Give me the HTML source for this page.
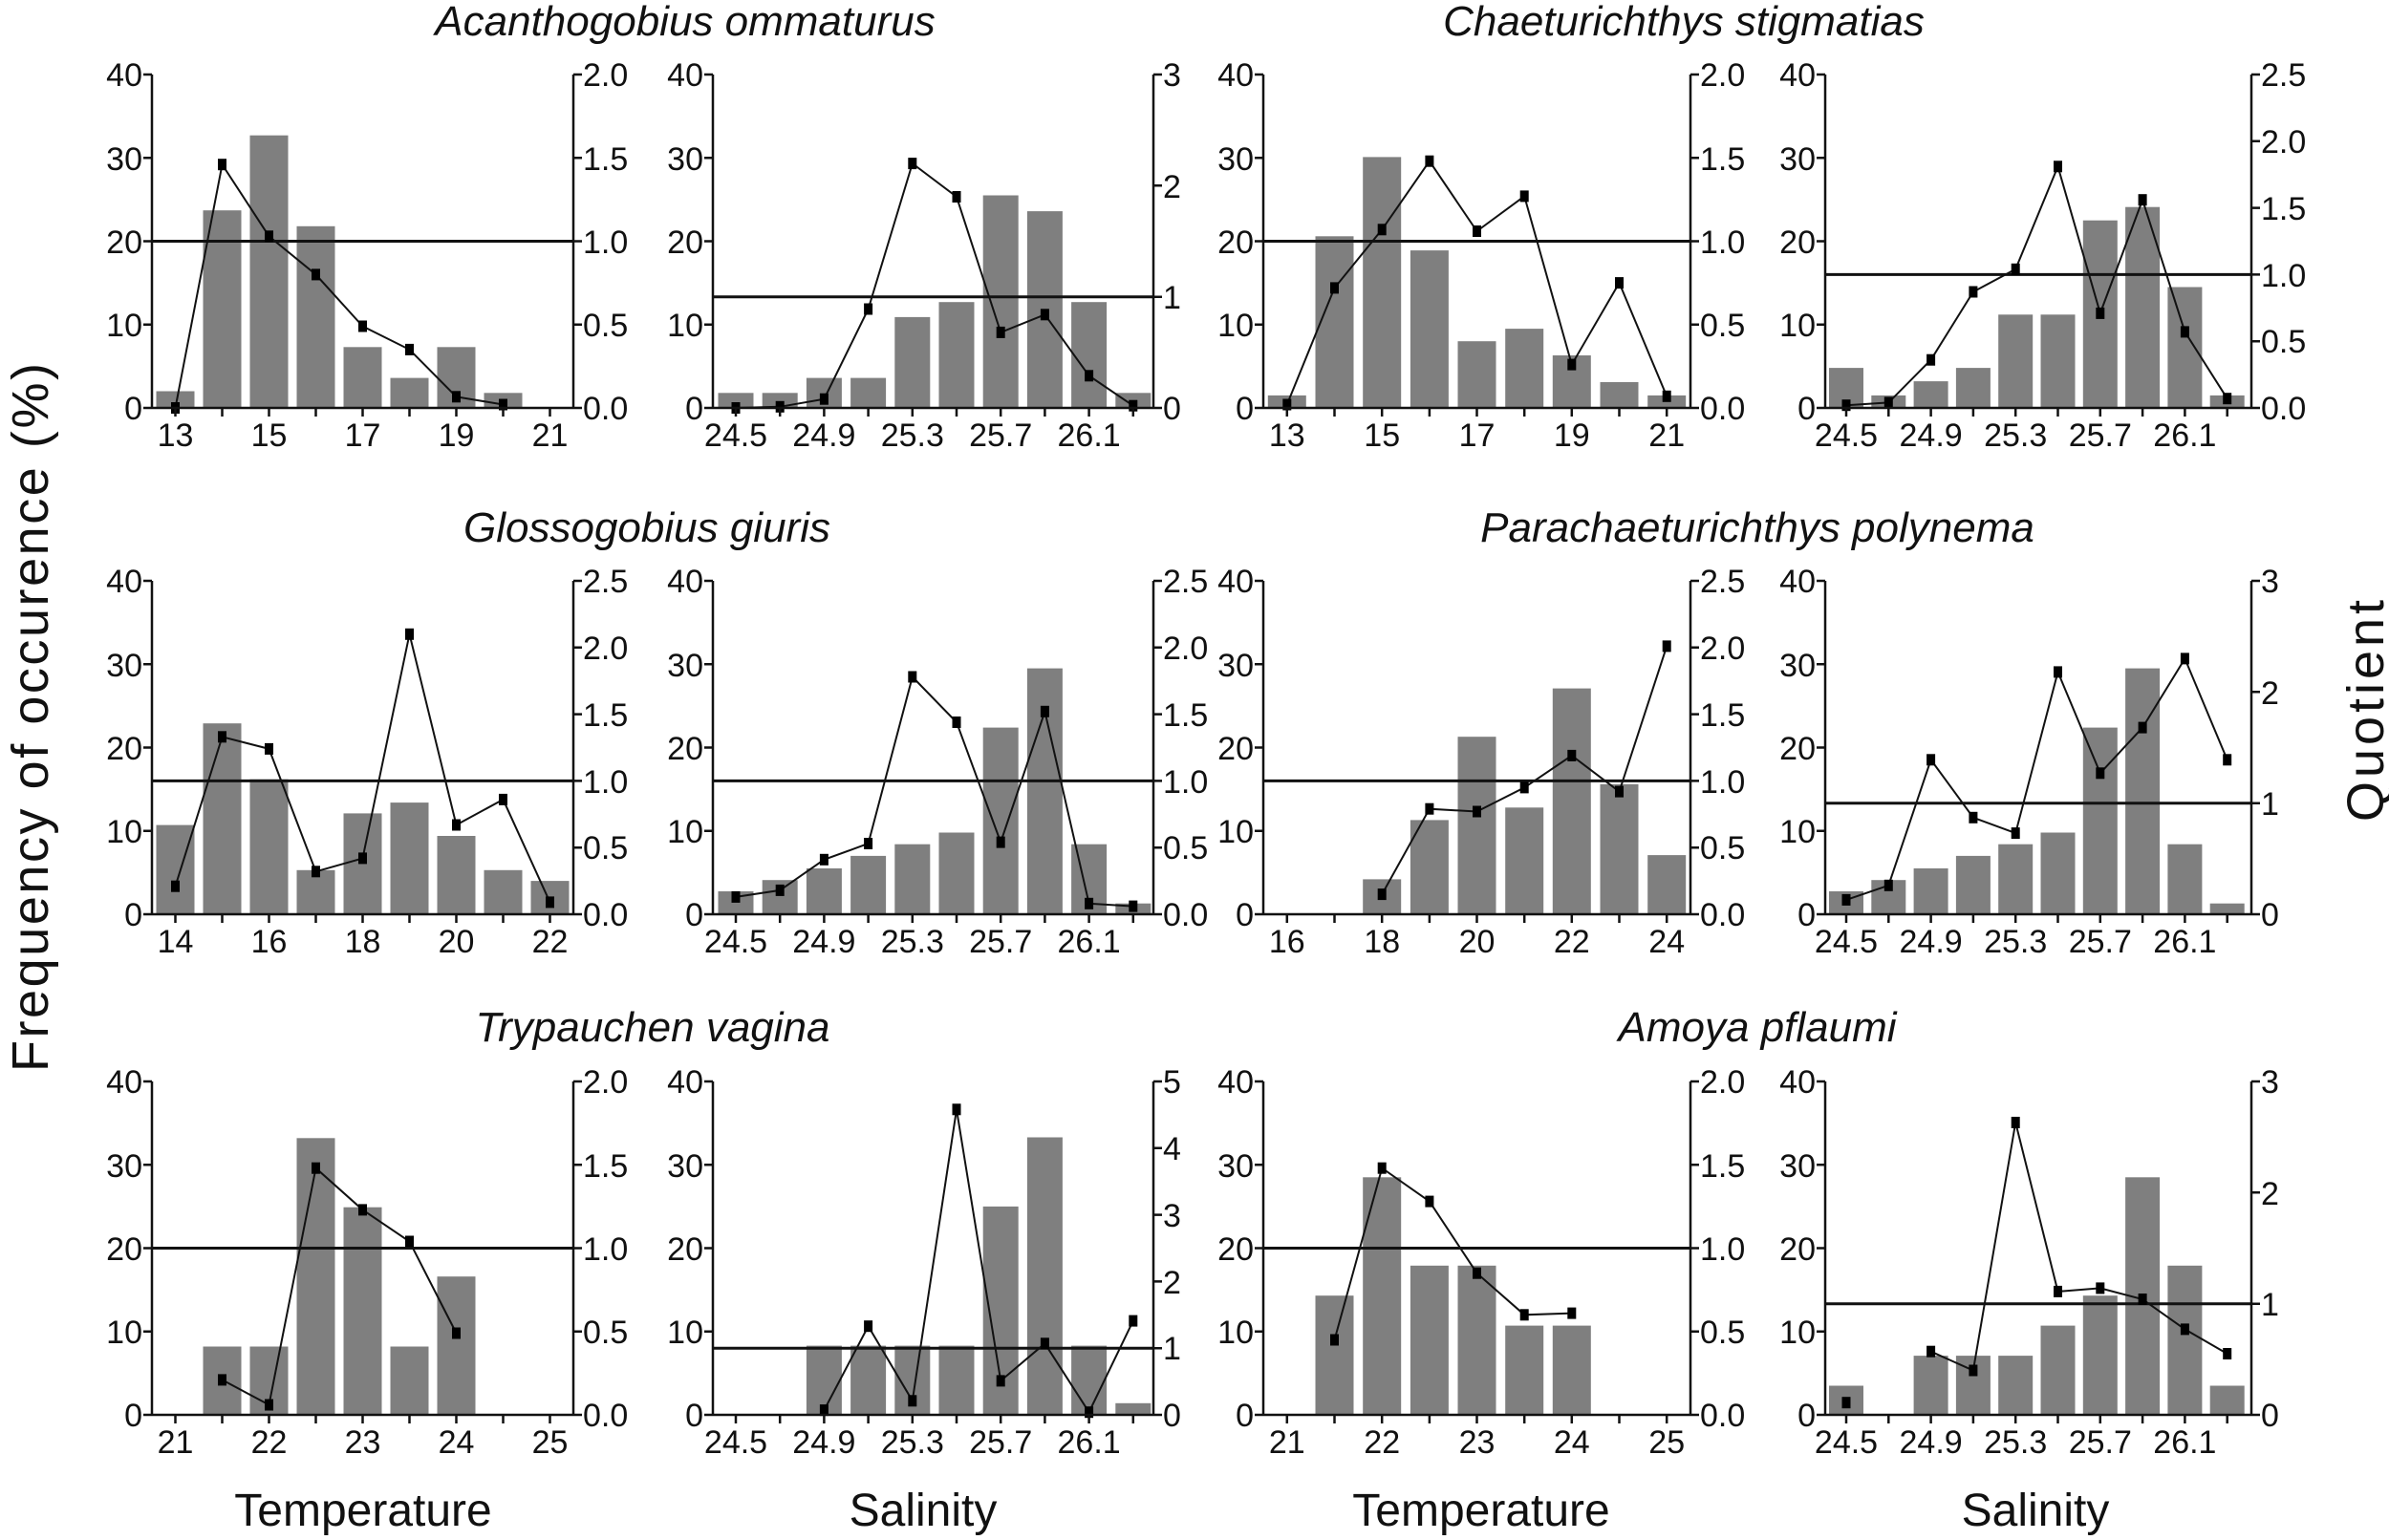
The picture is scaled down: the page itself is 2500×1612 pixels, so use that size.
<!DOCTYPE html>
<html><head><meta charset="utf-8"><style>
html,body{margin:0;padding:0;background:#fff;}
svg{display:block;}
text{font-family:"Liberation Sans",Arial,sans-serif;fill:#111;}
.t{font-size:34px;}
.ti{font-size:44px;font-style:italic;text-anchor:middle;}
.ax{font-size:48px;text-anchor:middle;}
.l{text-anchor:end;}
.m{text-anchor:middle;}
.b{fill:#7f7f7f;}
.a{stroke:#111;stroke-width:2.5;fill:none;}
.r{stroke:#111;stroke-width:3;}
.d{stroke:#111;stroke-width:2;fill:none;}
</style></head><body>
<svg width="2500" height="1612" viewBox="0 0 2500 1612" xmlns="http://www.w3.org/2000/svg">
<defs><rect id="m" x="-4.5" y="-6" width="9" height="12" fill="#000"/></defs>

<text class="ti" x="717" y="37">Acanthogobius ommaturus</text>
<text class="ti" x="1762" y="37">Chaeturichthys stigmatias</text>
<text class="ti" x="677" y="567">Glossogobius giuris</text>
<text class="ti" x="1839" y="567">Parachaeturichthys polynema</text>
<text class="ti" x="683" y="1090">Trypauchen vagina</text>
<text class="ti" x="1839" y="1090">Amoya pflaumi</text>

<text class="ax" x="380" y="1597">Temperature</text>
<text class="ax" x="966" y="1597">Salinity</text>
<text class="ax" x="1550" y="1597">Temperature</text>
<text class="ax" x="2130" y="1597">Salinity</text>

<text transform="translate(50,751) rotate(-90)" font-size="54" text-anchor="middle" textLength="742" lengthAdjust="spacing">Frequency of occurence (%)</text>
<text transform="translate(2494,744) rotate(-90)" font-size="54" text-anchor="middle" textLength="232" lengthAdjust="spacing">Quotient</text>

<!-- P1 -->
<g transform="translate(159,427)">
<rect class="b" x="4.5" y="-17.5" width="40" height="17.5"/><rect class="b" x="53.5" y="-206.8" width="40" height="206.8"/><rect class="b" x="102.5" y="-285.3" width="40" height="285.3"/><rect class="b" x="151.5" y="-190.2" width="40" height="190.2"/><rect class="b" x="200.5" y="-63.7" width="40" height="63.7"/><rect class="b" x="249.5" y="-31.4" width="40" height="31.4"/><rect class="b" x="298.5" y="-63.7" width="40" height="63.7"/><rect class="b" x="347.5" y="-15.7" width="40" height="15.7"/>
<line class="r" x1="0" y1="-174.5" x2="441" y2="-174.5"/>
<polyline class="d" points="24.5,0 73.5,-254.8 122.5,-179.7 171.5,-139.6 220.5,-85.5 269.5,-61.1 318.5,-11.7 367.5,-3.5"/>
<use href="#m" x="24.5" y="0"/><use href="#m" x="73.5" y="-254.8"/><use href="#m" x="122.5" y="-179.7"/><use href="#m" x="171.5" y="-139.6"/><use href="#m" x="220.5" y="-85.5"/><use href="#m" x="269.5" y="-61.1"/><use href="#m" x="318.5" y="-11.7"/><use href="#m" x="367.5" y="-3.5"/>
<path class="a" d="M0,-349V0H441V-349M0,0h-9M0,-87.25h-9M0,-174.5h-9M0,-261.75h-9M0,-349h-9M441,0h9M441,-87.25h9M441,-174.5h9M441,-261.75h9M441,-349h9M24.5,0v9M73.5,0v9M122.5,0v9M171.5,0v9M220.5,0v9M269.5,0v9M318.5,0v9M367.5,0v9M416.5,0v9"/>
<text class="t l" x="-10" y="12">0</text><text class="t l" x="-10" y="-75">10</text><text class="t l" x="-10" y="-162">20</text><text class="t l" x="-10" y="-249">30</text><text class="t l" x="-10" y="-337">40</text>
<text class="t" x="451" y="12">0.0</text><text class="t" x="451" y="-75">0.5</text><text class="t" x="451" y="-162">1.0</text><text class="t" x="451" y="-249">1.5</text><text class="t" x="451" y="-337">2.0</text>
<text class="t m" x="24.5" y="40">13</text><text class="t m" x="122.5" y="40">15</text><text class="t m" x="220.5" y="40">17</text><text class="t m" x="318.5" y="40">19</text><text class="t m" x="416.5" y="40">21</text>
</g>

<!-- P2 -->
<g transform="translate(746,427)">
<rect class="b" x="5.5" y="-15.7" width="37" height="15.7"/><rect class="b" x="51.7" y="-15.7" width="37" height="15.7"/><rect class="b" x="97.9" y="-31.4" width="37" height="31.4"/><rect class="b" x="144.1" y="-31.4" width="37" height="31.4"/><rect class="b" x="190.3" y="-95.1" width="37" height="95.1"/><rect class="b" x="236.5" y="-110.8" width="37" height="110.8"/><rect class="b" x="282.7" y="-222.5" width="37" height="222.5"/><rect class="b" x="328.9" y="-205.9" width="37" height="205.9"/><rect class="b" x="375.1" y="-110.8" width="37" height="110.8"/><rect class="b" x="421.3" y="-15.7" width="37" height="15.7"/>
<line class="r" x1="0" y1="-116.3" x2="461" y2="-116.3"/>
<polyline class="d" points="24,0 70.2,-1.2 116.4,-9.3 162.6,-103.5 208.8,-255.9 255,-221 301.2,-79.1 347.4,-97.7 393.6,-33.7 439.8,-2.3"/>
<use href="#m" x="24" y="0"/><use href="#m" x="70.2" y="-1.2"/><use href="#m" x="116.4" y="-9.3"/><use href="#m" x="162.6" y="-103.5"/><use href="#m" x="208.8" y="-255.9"/><use href="#m" x="255" y="-221"/><use href="#m" x="301.2" y="-79.1"/><use href="#m" x="347.4" y="-97.7"/><use href="#m" x="393.6" y="-33.7"/><use href="#m" x="439.8" y="-2.3"/>
<path class="a" d="M0,-349V0H461V-349M0,0h-9M0,-87.25h-9M0,-174.5h-9M0,-261.75h-9M0,-349h-9M461,0h9M461,-116.3h9M461,-232.7h9M461,-349h9M24,0v9M70.2,0v9M116.4,0v9M162.6,0v9M208.8,0v9M255,0v9M301.2,0v9M347.4,0v9M393.6,0v9M439.8,0v9"/>
<text class="t l" x="-10" y="12">0</text><text class="t l" x="-10" y="-75">10</text><text class="t l" x="-10" y="-162">20</text><text class="t l" x="-10" y="-249">30</text><text class="t l" x="-10" y="-337">40</text>
<text class="t" x="471" y="12">0</text><text class="t" x="471" y="-104">1</text><text class="t" x="471" y="-220">2</text><text class="t" x="471" y="-337">3</text>
<text class="t m" x="24" y="40">24.5</text><text class="t m" x="116.4" y="40">24.9</text><text class="t m" x="208.8" y="40">25.3</text><text class="t m" x="301.2" y="40">25.7</text><text class="t m" x="393.6" y="40">26.1</text>
</g>

<!-- P3 -->
<g transform="translate(1322,427)">
<rect class="b" x="4.8" y="-13.1" width="40" height="13.1"/><rect class="b" x="54.5" y="-179.7" width="40" height="179.7"/><rect class="b" x="104.2" y="-262.6" width="40" height="262.6"/><rect class="b" x="153.9" y="-164.9" width="40" height="164.9"/><rect class="b" x="203.5" y="-69.8" width="40" height="69.8"/><rect class="b" x="253.2" y="-82.9" width="40" height="82.9"/><rect class="b" x="302.8" y="-55" width="40" height="55"/><rect class="b" x="352.5" y="-27" width="40" height="27"/><rect class="b" x="402.2" y="-13.1" width="40" height="13.1"/>
<line class="r" x1="0" y1="-174.5" x2="447" y2="-174.5"/>
<polyline class="d" points="24.8,-3.5 74.5,-125.6 124.2,-186.7 173.9,-258.3 223.5,-185 273.2,-221.6 322.8,-45.4 372.5,-130.9 422.2,-12.2"/>
<use href="#m" x="24.8" y="-3.5"/><use href="#m" x="74.5" y="-125.6"/><use href="#m" x="124.2" y="-186.7"/><use href="#m" x="173.9" y="-258.3"/><use href="#m" x="223.5" y="-185"/><use href="#m" x="273.2" y="-221.6"/><use href="#m" x="322.8" y="-45.4"/><use href="#m" x="372.5" y="-130.9"/><use href="#m" x="422.2" y="-12.2"/>
<path class="a" d="M0,-349V0H447V-349M0,0h-9M0,-87.25h-9M0,-174.5h-9M0,-261.75h-9M0,-349h-9M447,0h9M447,-87.25h9M447,-174.5h9M447,-261.75h9M447,-349h9M24.8,0v9M74.5,0v9M124.2,0v9M173.9,0v9M223.5,0v9M273.2,0v9M322.8,0v9M372.5,0v9M422.2,0v9"/>
<text class="t l" x="-10" y="12">0</text><text class="t l" x="-10" y="-75">10</text><text class="t l" x="-10" y="-162">20</text><text class="t l" x="-10" y="-249">30</text><text class="t l" x="-10" y="-337">40</text>
<text class="t" x="457" y="12">0.0</text><text class="t" x="457" y="-75">0.5</text><text class="t" x="457" y="-162">1.0</text><text class="t" x="457" y="-249">1.5</text><text class="t" x="457" y="-337">2.0</text>
<text class="t m" x="24.8" y="40">13</text><text class="t m" x="124.2" y="40">15</text><text class="t m" x="223.5" y="40">17</text><text class="t m" x="322.8" y="40">19</text><text class="t m" x="422.2" y="40">21</text>
</g>

<!-- P4 -->
<g transform="translate(1910,427)">
<rect class="b" x="4" y="-41.9" width="36" height="41.9"/><rect class="b" x="48.3" y="-13.1" width="36" height="13.1"/><rect class="b" x="92.6" y="-27.9" width="36" height="27.9"/><rect class="b" x="136.9" y="-41.9" width="36" height="41.9"/><rect class="b" x="181.2" y="-97.7" width="36" height="97.7"/><rect class="b" x="225.5" y="-97.7" width="36" height="97.7"/><rect class="b" x="269.8" y="-196.3" width="36" height="196.3"/><rect class="b" x="314.1" y="-210.3" width="36" height="210.3"/><rect class="b" x="358.4" y="-126.5" width="36" height="126.5"/><rect class="b" x="402.7" y="-13.1" width="36" height="13.1"/>
<line class="r" x1="0" y1="-139.6" x2="446" y2="-139.6"/>
<polyline class="d" points="22,-2.8 66.3,-5.6 110.6,-50.3 154.9,-121.5 199.2,-145.2 243.5,-252.7 287.8,-99.1 332.1,-217.8 376.4,-79.6 420.7,-9.8"/>
<use href="#m" x="22" y="-2.8"/><use href="#m" x="66.3" y="-5.6"/><use href="#m" x="110.6" y="-50.3"/><use href="#m" x="154.9" y="-121.5"/><use href="#m" x="199.2" y="-145.2"/><use href="#m" x="243.5" y="-252.7"/><use href="#m" x="287.8" y="-99.1"/><use href="#m" x="332.1" y="-217.8"/><use href="#m" x="376.4" y="-79.6"/><use href="#m" x="420.7" y="-9.8"/>
<path class="a" d="M0,-349V0H446V-349M0,0h-9M0,-87.25h-9M0,-174.5h-9M0,-261.75h-9M0,-349h-9M446,0h9M446,-69.8h9M446,-139.6h9M446,-209.4h9M446,-279.2h9M446,-349h9M22,0v9M66.3,0v9M110.6,0v9M154.9,0v9M199.2,0v9M243.5,0v9M287.8,0v9M332.1,0v9M376.4,0v9M420.7,0v9"/>
<text class="t l" x="-10" y="12">0</text><text class="t l" x="-10" y="-75">10</text><text class="t l" x="-10" y="-162">20</text><text class="t l" x="-10" y="-249">30</text><text class="t l" x="-10" y="-337">40</text>
<text class="t" x="456" y="12">0.0</text><text class="t" x="456" y="-58">0.5</text><text class="t" x="456" y="-127">1.0</text><text class="t" x="456" y="-197">1.5</text><text class="t" x="456" y="-267">2.0</text><text class="t" x="456" y="-337">2.5</text>
<text class="t m" x="22" y="40">24.5</text><text class="t m" x="110.6" y="40">24.9</text><text class="t m" x="199.2" y="40">25.3</text><text class="t m" x="287.8" y="40">25.7</text><text class="t m" x="376.4" y="40">26.1</text>
</g>

<!-- P5 -->
<g transform="translate(159,957)">
<rect class="b" x="4.5" y="-93.4" width="40" height="93.4"/><rect class="b" x="53.5" y="-199.8" width="40" height="199.8"/><rect class="b" x="102.5" y="-141.3" width="40" height="141.3"/><rect class="b" x="151.5" y="-46.2" width="40" height="46.2"/><rect class="b" x="200.5" y="-105.6" width="40" height="105.6"/><rect class="b" x="249.5" y="-116.9" width="40" height="116.9"/><rect class="b" x="298.5" y="-82" width="40" height="82"/><rect class="b" x="347.5" y="-46.2" width="40" height="46.2"/><rect class="b" x="396.5" y="-34.9" width="40" height="34.9"/>
<line class="r" x1="0" y1="-139.6" x2="441" y2="-139.6"/>
<polyline class="d" points="24.5,-29.3 73.5,-185.7 122.5,-173.1 171.5,-44.7 220.5,-58.6 269.5,-293.2 318.5,-93.5 367.5,-120.1 416.5,-12.6"/>
<use href="#m" x="24.5" y="-29.3"/><use href="#m" x="73.5" y="-185.7"/><use href="#m" x="122.5" y="-173.1"/><use href="#m" x="171.5" y="-44.7"/><use href="#m" x="220.5" y="-58.6"/><use href="#m" x="269.5" y="-293.2"/><use href="#m" x="318.5" y="-93.5"/><use href="#m" x="367.5" y="-120.1"/><use href="#m" x="416.5" y="-12.6"/>
<path class="a" d="M0,-349V0H441V-349M0,0h-9M0,-87.25h-9M0,-174.5h-9M0,-261.75h-9M0,-349h-9M441,0h9M441,-69.8h9M441,-139.6h9M441,-209.4h9M441,-279.2h9M441,-349h9M24.5,0v9M73.5,0v9M122.5,0v9M171.5,0v9M220.5,0v9M269.5,0v9M318.5,0v9M367.5,0v9M416.5,0v9"/>
<text class="t l" x="-10" y="12">0</text><text class="t l" x="-10" y="-75">10</text><text class="t l" x="-10" y="-162">20</text><text class="t l" x="-10" y="-249">30</text><text class="t l" x="-10" y="-337">40</text>
<text class="t" x="451" y="12">0.0</text><text class="t" x="451" y="-58">0.5</text><text class="t" x="451" y="-127">1.0</text><text class="t" x="451" y="-197">1.5</text><text class="t" x="451" y="-267">2.0</text><text class="t" x="451" y="-337">2.5</text>
<text class="t m" x="24.5" y="40">14</text><text class="t m" x="122.5" y="40">16</text><text class="t m" x="220.5" y="40">18</text><text class="t m" x="318.5" y="40">20</text><text class="t m" x="416.5" y="40">22</text>
</g>

<!-- P6 -->
<g transform="translate(746,957)">
<rect class="b" x="5.5" y="-24" width="37" height="24"/><rect class="b" x="51.7" y="-35.8" width="37" height="35.8"/><rect class="b" x="97.9" y="-48" width="37" height="48"/><rect class="b" x="144.1" y="-61.1" width="37" height="61.1"/><rect class="b" x="190.3" y="-73.3" width="37" height="73.3"/><rect class="b" x="236.5" y="-85.5" width="37" height="85.5"/><rect class="b" x="282.7" y="-195.4" width="37" height="195.4"/><rect class="b" x="328.9" y="-257.4" width="37" height="257.4"/><rect class="b" x="375.1" y="-73.3" width="37" height="73.3"/><rect class="b" x="421.3" y="-11.3" width="37" height="11.3"/>
<line class="r" x1="0" y1="-139.6" x2="461" y2="-139.6"/>
<polyline class="d" points="24,-18.1 70.2,-25.1 116.4,-57.2 162.6,-74 208.8,-248.5 255,-201 301.2,-75.4 347.4,-212.2 393.6,-11.2 439.8,-8.4"/>
<use href="#m" x="24" y="-18.1"/><use href="#m" x="70.2" y="-25.1"/><use href="#m" x="116.4" y="-57.2"/><use href="#m" x="162.6" y="-74"/><use href="#m" x="208.8" y="-248.5"/><use href="#m" x="255" y="-201"/><use href="#m" x="301.2" y="-75.4"/><use href="#m" x="347.4" y="-212.2"/><use href="#m" x="393.6" y="-11.2"/><use href="#m" x="439.8" y="-8.4"/>
<path class="a" d="M0,-349V0H461V-349M0,0h-9M0,-87.25h-9M0,-174.5h-9M0,-261.75h-9M0,-349h-9M461,0h9M461,-69.8h9M461,-139.6h9M461,-209.4h9M461,-279.2h9M461,-349h9M24,0v9M70.2,0v9M116.4,0v9M162.6,0v9M208.8,0v9M255,0v9M301.2,0v9M347.4,0v9M393.6,0v9M439.8,0v9"/>
<text class="t l" x="-10" y="12">0</text><text class="t l" x="-10" y="-75">10</text><text class="t l" x="-10" y="-162">20</text><text class="t l" x="-10" y="-249">30</text><text class="t l" x="-10" y="-337">40</text>
<text class="t" x="471" y="12">0.0</text><text class="t" x="471" y="-58">0.5</text><text class="t" x="471" y="-127">1.0</text><text class="t" x="471" y="-197">1.5</text><text class="t" x="471" y="-267">2.0</text><text class="t" x="471" y="-337">2.5</text>
<text class="t m" x="24" y="40">24.5</text><text class="t m" x="116.4" y="40">24.9</text><text class="t m" x="208.8" y="40">25.3</text><text class="t m" x="301.2" y="40">25.7</text><text class="t m" x="393.6" y="40">26.1</text>
</g>

<!-- P7 -->
<g transform="translate(1322,957)">
<rect class="b" x="104.2" y="-36.6" width="40" height="36.6"/><rect class="b" x="153.9" y="-98.6" width="40" height="98.6"/><rect class="b" x="203.5" y="-185.8" width="40" height="185.8"/><rect class="b" x="253.2" y="-111.7" width="40" height="111.7"/><rect class="b" x="302.8" y="-236.4" width="40" height="236.4"/><rect class="b" x="352.5" y="-136.1" width="40" height="136.1"/><rect class="b" x="402.2" y="-61.9" width="40" height="61.9"/>
<line class="r" x1="0" y1="-139.6" x2="447" y2="-139.6"/>
<polyline class="d" points="124.2,-20.9 173.9,-110.3 223.5,-107.5 273.2,-132.6 322.8,-166.1 372.5,-128.4 422.2,-280.6"/>
<use href="#m" x="124.2" y="-20.9"/><use href="#m" x="173.9" y="-110.3"/><use href="#m" x="223.5" y="-107.5"/><use href="#m" x="273.2" y="-132.6"/><use href="#m" x="322.8" y="-166.1"/><use href="#m" x="372.5" y="-128.4"/><use href="#m" x="422.2" y="-280.6"/>
<path class="a" d="M0,-349V0H447V-349M0,0h-9M0,-87.25h-9M0,-174.5h-9M0,-261.75h-9M0,-349h-9M447,0h9M447,-69.8h9M447,-139.6h9M447,-209.4h9M447,-279.2h9M447,-349h9M24.8,0v9M74.5,0v9M124.2,0v9M173.9,0v9M223.5,0v9M273.2,0v9M322.8,0v9M372.5,0v9M422.2,0v9"/>
<text class="t l" x="-10" y="12">0</text><text class="t l" x="-10" y="-75">10</text><text class="t l" x="-10" y="-162">20</text><text class="t l" x="-10" y="-249">30</text><text class="t l" x="-10" y="-337">40</text>
<text class="t" x="457" y="12">0.0</text><text class="t" x="457" y="-58">0.5</text><text class="t" x="457" y="-127">1.0</text><text class="t" x="457" y="-197">1.5</text><text class="t" x="457" y="-267">2.0</text><text class="t" x="457" y="-337">2.5</text>
<text class="t m" x="24.8" y="40">16</text><text class="t m" x="124.2" y="40">18</text><text class="t m" x="223.5" y="40">20</text><text class="t m" x="322.8" y="40">22</text><text class="t m" x="422.2" y="40">24</text>
</g>

<!-- P8 -->
<g transform="translate(1910,957)">
<rect class="b" x="4" y="-24" width="36" height="24"/><rect class="b" x="48.3" y="-35.8" width="36" height="35.8"/><rect class="b" x="92.6" y="-48" width="36" height="48"/><rect class="b" x="136.9" y="-61.1" width="36" height="61.1"/><rect class="b" x="181.2" y="-73.3" width="36" height="73.3"/><rect class="b" x="225.5" y="-85.5" width="36" height="85.5"/><rect class="b" x="269.8" y="-195.4" width="36" height="195.4"/><rect class="b" x="314.1" y="-257.4" width="36" height="257.4"/><rect class="b" x="358.4" y="-73.3" width="36" height="73.3"/><rect class="b" x="402.7" y="-11.3" width="36" height="11.3"/>
<line class="r" x1="0" y1="-116.3" x2="446" y2="-116.3"/>
<polyline class="d" points="22,-15.1 66.3,-30.2 110.6,-161.7 154.9,-101.2 199.2,-84.9 243.5,-253.6 287.8,-147.7 332.1,-195.4 376.4,-267.6 420.7,-161.7"/>
<use href="#m" x="22" y="-15.1"/><use href="#m" x="66.3" y="-30.2"/><use href="#m" x="110.6" y="-161.7"/><use href="#m" x="154.9" y="-101.2"/><use href="#m" x="199.2" y="-84.9"/><use href="#m" x="243.5" y="-253.6"/><use href="#m" x="287.8" y="-147.7"/><use href="#m" x="332.1" y="-195.4"/><use href="#m" x="376.4" y="-267.6"/><use href="#m" x="420.7" y="-161.7"/>
<path class="a" d="M0,-349V0H446V-349M0,0h-9M0,-87.25h-9M0,-174.5h-9M0,-261.75h-9M0,-349h-9M446,0h9M446,-116.3h9M446,-232.7h9M446,-349h9M22,0v9M66.3,0v9M110.6,0v9M154.9,0v9M199.2,0v9M243.5,0v9M287.8,0v9M332.1,0v9M376.4,0v9M420.7,0v9"/>
<text class="t l" x="-10" y="12">0</text><text class="t l" x="-10" y="-75">10</text><text class="t l" x="-10" y="-162">20</text><text class="t l" x="-10" y="-249">30</text><text class="t l" x="-10" y="-337">40</text>
<text class="t" x="456" y="12">0</text><text class="t" x="456" y="-104">1</text><text class="t" x="456" y="-220">2</text><text class="t" x="456" y="-337">3</text>
<text class="t m" x="22" y="40">24.5</text><text class="t m" x="110.6" y="40">24.9</text><text class="t m" x="199.2" y="40">25.3</text><text class="t m" x="287.8" y="40">25.7</text><text class="t m" x="376.4" y="40">26.1</text>
</g>

<!-- P9 -->
<g transform="translate(159,1481)">
<rect class="b" x="53.5" y="-71.5" width="40" height="71.5"/><rect class="b" x="102.5" y="-71.5" width="40" height="71.5"/><rect class="b" x="151.5" y="-289.7" width="40" height="289.7"/><rect class="b" x="200.5" y="-217.3" width="40" height="217.3"/><rect class="b" x="249.5" y="-71.5" width="40" height="71.5"/><rect class="b" x="298.5" y="-144.8" width="40" height="144.8"/>
<line class="r" x1="0" y1="-174.5" x2="441" y2="-174.5"/>
<polyline class="d" points="73.5,-36.6 122.5,-10.5 171.5,-258.3 220.5,-214.6 269.5,-181.5 318.5,-85.5"/>
<use href="#m" x="73.5" y="-36.6"/><use href="#m" x="122.5" y="-10.5"/><use href="#m" x="171.5" y="-258.3"/><use href="#m" x="220.5" y="-214.6"/><use href="#m" x="269.5" y="-181.5"/><use href="#m" x="318.5" y="-85.5"/>
<path class="a" d="M0,-349V0H441V-349M0,0h-9M0,-87.25h-9M0,-174.5h-9M0,-261.75h-9M0,-349h-9M441,0h9M441,-87.25h9M441,-174.5h9M441,-261.75h9M441,-349h9M24.5,0v9M73.5,0v9M122.5,0v9M171.5,0v9M220.5,0v9M269.5,0v9M318.5,0v9M367.5,0v9M416.5,0v9"/>
<text class="t l" x="-10" y="12">0</text><text class="t l" x="-10" y="-75">10</text><text class="t l" x="-10" y="-162">20</text><text class="t l" x="-10" y="-249">30</text><text class="t l" x="-10" y="-337">40</text>
<text class="t" x="451" y="12">0.0</text><text class="t" x="451" y="-75">0.5</text><text class="t" x="451" y="-162">1.0</text><text class="t" x="451" y="-249">1.5</text><text class="t" x="451" y="-337">2.0</text>
<text class="t m" x="24.5" y="40">21</text><text class="t m" x="122.5" y="40">22</text><text class="t m" x="220.5" y="40">23</text><text class="t m" x="318.5" y="40">24</text><text class="t m" x="416.5" y="40">25</text>
</g>

<!-- P10 -->
<g transform="translate(746,1481)">
<rect class="b" x="97.9" y="-72.4" width="37" height="72.4"/><rect class="b" x="144.1" y="-72.4" width="37" height="72.4"/><rect class="b" x="190.3" y="-72.4" width="37" height="72.4"/><rect class="b" x="236.5" y="-72.4" width="37" height="72.4"/><rect class="b" x="282.7" y="-218.1" width="37" height="218.1"/><rect class="b" x="328.9" y="-290.5" width="37" height="290.5"/><rect class="b" x="375.1" y="-72.4" width="37" height="72.4"/><rect class="b" x="421.3" y="-12.2" width="37" height="12.2"/>
<line class="r" x1="0" y1="-69.8" x2="461" y2="-69.8"/>
<polyline class="d" points="116.4,-4.9 162.6,-92.8 208.8,-14.7 255,-319.7 301.2,-35.6 347.4,-74.7 393.6,-2.8 439.8,-98.4"/>
<use href="#m" x="116.4" y="-4.9"/><use href="#m" x="162.6" y="-92.8"/><use href="#m" x="208.8" y="-14.7"/><use href="#m" x="255" y="-319.7"/><use href="#m" x="301.2" y="-35.6"/><use href="#m" x="347.4" y="-74.7"/><use href="#m" x="393.6" y="-2.8"/><use href="#m" x="439.8" y="-98.4"/>
<path class="a" d="M0,-349V0H461V-349M0,0h-9M0,-87.25h-9M0,-174.5h-9M0,-261.75h-9M0,-349h-9M461,0h9M461,-69.8h9M461,-139.6h9M461,-209.4h9M461,-279.2h9M461,-349h9M24,0v9M70.2,0v9M116.4,0v9M162.6,0v9M208.8,0v9M255,0v9M301.2,0v9M347.4,0v9M393.6,0v9M439.8,0v9"/>
<text class="t l" x="-10" y="12">0</text><text class="t l" x="-10" y="-75">10</text><text class="t l" x="-10" y="-162">20</text><text class="t l" x="-10" y="-249">30</text><text class="t l" x="-10" y="-337">40</text>
<text class="t" x="471" y="12">0</text><text class="t" x="471" y="-58">1</text><text class="t" x="471" y="-127">2</text><text class="t" x="471" y="-197">3</text><text class="t" x="471" y="-267">4</text><text class="t" x="471" y="-337">5</text>
<text class="t m" x="24" y="40">24.5</text><text class="t m" x="116.4" y="40">24.9</text><text class="t m" x="208.8" y="40">25.3</text><text class="t m" x="301.2" y="40">25.7</text><text class="t m" x="393.6" y="40">26.1</text>
</g>

<!-- P11 -->
<g transform="translate(1322,1481)">
<rect class="b" x="54.5" y="-124.8" width="40" height="124.8"/><rect class="b" x="104.2" y="-248.7" width="40" height="248.7"/><rect class="b" x="153.9" y="-156.2" width="40" height="156.2"/><rect class="b" x="203.5" y="-156.2" width="40" height="156.2"/><rect class="b" x="253.2" y="-93.4" width="40" height="93.4"/><rect class="b" x="302.8" y="-93.4" width="40" height="93.4"/>
<line class="r" x1="0" y1="-174.5" x2="447" y2="-174.5"/>
<polyline class="d" points="74.5,-78.5 124.2,-258.3 173.9,-223.4 223.5,-148.3 273.2,-104.7 322.8,-106.4"/>
<use href="#m" x="74.5" y="-78.5"/><use href="#m" x="124.2" y="-258.3"/><use href="#m" x="173.9" y="-223.4"/><use href="#m" x="223.5" y="-148.3"/><use href="#m" x="273.2" y="-104.7"/><use href="#m" x="322.8" y="-106.4"/>
<path class="a" d="M0,-349V0H447V-349M0,0h-9M0,-87.25h-9M0,-174.5h-9M0,-261.75h-9M0,-349h-9M447,0h9M447,-87.25h9M447,-174.5h9M447,-261.75h9M447,-349h9M24.8,0v9M74.5,0v9M124.2,0v9M173.9,0v9M223.5,0v9M273.2,0v9M322.8,0v9M372.5,0v9M422.2,0v9"/>
<text class="t l" x="-10" y="12">0</text><text class="t l" x="-10" y="-75">10</text><text class="t l" x="-10" y="-162">20</text><text class="t l" x="-10" y="-249">30</text><text class="t l" x="-10" y="-337">40</text>
<text class="t" x="457" y="12">0.0</text><text class="t" x="457" y="-75">0.5</text><text class="t" x="457" y="-162">1.0</text><text class="t" x="457" y="-249">1.5</text><text class="t" x="457" y="-337">2.0</text>
<text class="t m" x="24.8" y="40">21</text><text class="t m" x="124.2" y="40">22</text><text class="t m" x="223.5" y="40">23</text><text class="t m" x="322.8" y="40">24</text><text class="t m" x="422.2" y="40">25</text>
</g>

<!-- P12 -->
<g transform="translate(1910,1481)">
<rect class="b" x="4" y="-30.5" width="36" height="30.5"/><rect class="b" x="92.6" y="-61.9" width="36" height="61.9"/><rect class="b" x="136.9" y="-61.9" width="36" height="61.9"/><rect class="b" x="181.2" y="-61.9" width="36" height="61.9"/><rect class="b" x="225.5" y="-93.4" width="36" height="93.4"/><rect class="b" x="269.8" y="-124.8" width="36" height="124.8"/><rect class="b" x="314.1" y="-248.7" width="36" height="248.7"/><rect class="b" x="358.4" y="-156.2" width="36" height="156.2"/><rect class="b" x="402.7" y="-30.5" width="36" height="30.5"/>
<line class="r" x1="0" y1="-116.3" x2="446" y2="-116.3"/>
<polyline class="d" points="110.6,-66.3 154.9,-46.5 199.2,-306 243.5,-129.1 287.8,-132.6 332.1,-121 376.4,-89.6 420.7,-64"/>
<use href="#m" x="22" y="-12.8"/><use href="#m" x="110.6" y="-66.3"/><use href="#m" x="154.9" y="-46.5"/><use href="#m" x="199.2" y="-306"/><use href="#m" x="243.5" y="-129.1"/><use href="#m" x="287.8" y="-132.6"/><use href="#m" x="332.1" y="-121"/><use href="#m" x="376.4" y="-89.6"/><use href="#m" x="420.7" y="-64"/>
<path class="a" d="M0,-349V0H446V-349M0,0h-9M0,-87.25h-9M0,-174.5h-9M0,-261.75h-9M0,-349h-9M446,0h9M446,-116.3h9M446,-232.7h9M446,-349h9M22,0v9M66.3,0v9M110.6,0v9M154.9,0v9M199.2,0v9M243.5,0v9M287.8,0v9M332.1,0v9M376.4,0v9M420.7,0v9"/>
<text class="t l" x="-10" y="12">0</text><text class="t l" x="-10" y="-75">10</text><text class="t l" x="-10" y="-162">20</text><text class="t l" x="-10" y="-249">30</text><text class="t l" x="-10" y="-337">40</text>
<text class="t" x="456" y="12">0</text><text class="t" x="456" y="-104">1</text><text class="t" x="456" y="-220">2</text><text class="t" x="456" y="-337">3</text>
<text class="t m" x="22" y="40">24.5</text><text class="t m" x="110.6" y="40">24.9</text><text class="t m" x="199.2" y="40">25.3</text><text class="t m" x="287.8" y="40">25.7</text><text class="t m" x="376.4" y="40">26.1</text>
</g>
</svg>
</body></html>
